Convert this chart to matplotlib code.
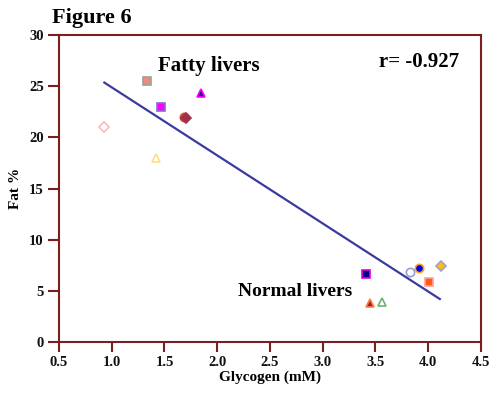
import matplotlib
matplotlib.use("Agg")
import matplotlib.pyplot as plt

# data
glycogen = [1.33, 1.47, 1.85, 1.685, 1.70, 0.93, 1.42,
            3.41, 3.83, 3.91, 4.12, 4.01, 3.45, 3.56]
fat = [25.5, 23.0, 24.3, 22.0, 21.9, 21.05, 17.95,
       6.65, 6.8, 7.2, 7.45, 5.9, 3.85, 3.9]
markers = ['s', 's', '^', 'o', 'D', 'D', '^',
           's', 'o', 'o', 'D', 's', '^', '^']
faces = ['#f08a80', '#ff00ff', '#330099', '#e06020', '#a03050', 'none', 'none',
         '#000080', 'none', '#0000ff', '#ffc000', '#ff5a10', '#a02020', 'none']
edges = ['#90a890', '#8a6ad0', '#ff00ff', '#d05030', '#a03050', '#ffb8b8', '#ffe080',
         '#e000e0', '#9a9ad8', '#ffa020', '#a0a0d0', '#ffa0a0', '#ff8040', '#70b070']

# regression line ends
fit_x = [0.93, 4.11]
fit_y = [25.35, 4.2]

plt.rcParams['font.family'] = 'Liberation Serif'
plt.rcParams['font.weight'] = 'bold'

fig = plt.figure(figsize=(4.92, 3.93), dpi=100)
ax = fig.add_axes([0.1199, 0.1298, 0.8577, 0.7811])

ax.plot(fit_x, fit_y, color='#3a3aa0', lw=1.6, zorder=2)
for x, y, m, fc, ec in zip(glycogen, fat, markers, faces, edges):
    ms = 6 if m != 'D' else 5
    ax.plot(x, y, marker=m, ms=ms, mfc=fc, mec=ec, mew=1.2, ls='none', zorder=3)

ax.set_xlim(0.5, 4.5)
ax.set_ylim(0, 30)
ax.set_xticks([0.5, 1.0, 1.5, 2.0, 2.5, 3.0, 3.5, 4.0, 4.5])
ax.set_xticklabels(['0.5', '1.0', '1.5', '2.0', '2.5', '3.0', '3.5', '4.0', '4.5'])
ax.set_yticks([0, 5, 10, 15, 20, 25, 30])

red = '#7a1f1f'
for s in ax.spines.values():
    s.set_color(red)
    s.set_linewidth(1.5)
ax.tick_params(colors=red, width=1.5, labelcolor='#111111', labelsize=10.5)
ax.tick_params(axis='y', length=8, pad=3)
ax.tick_params(axis='x', length=7, pad=3)

ax.set_xlabel('Glycogen (mM)', fontsize=11, fontweight='bold', labelpad=1)
ax.set_ylabel('Fat %', fontsize=11, fontweight='bold', labelpad=5)

fig.text(0.105, 0.955, 'Figure 6', fontsize=16, fontweight='bold', va='center')
ax.text(1.44, 26.5, 'Fatty livers', fontsize=15, fontweight='bold')
ax.text(3.53, 26.9, 'r= -0.927', fontsize=15, fontweight='bold')
ax.text(2.2, 4.5, 'Normal livers', fontsize=14, fontweight='bold')

fig.savefig('out.png', dpi=100)
